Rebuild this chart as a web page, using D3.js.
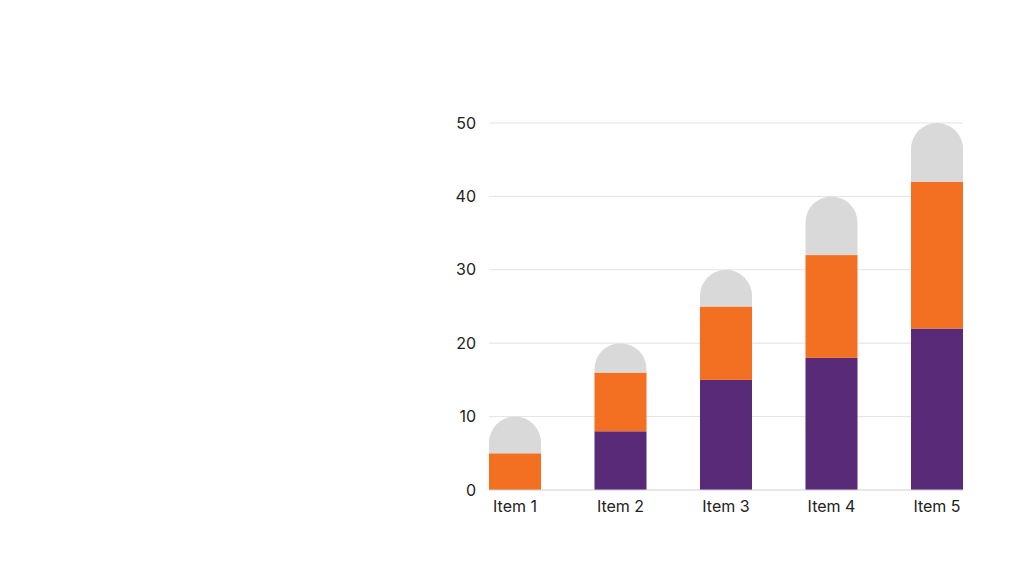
<!DOCTYPE html>
<html lang="en">
<head>
<meta charset="UTF-8">
<title>Stacked Bars</title>
<script src="https://cdn.jsdelivr.net/npm/d3@7"></script>
<style>
  body { margin: 0; background: #fff; }
  text { font-family: Inter, "Open Sans", sans-serif; }
</style>
</head>
<body>
<svg width="1024" height="576"></svg>
<script>
  const items = ['Item 1', 'Item 2', 'Item 3', 'Item 4', 'Item 5'];
  const seriesA = [0, 8, 15, 18, 22];
  const seriesB = [5, 8, 10, 14, 20];
  const seriesC = [5, 4, 5, 8, 8];
  const yTicks = [0, 10, 20, 30, 40, 50];
  const colors = ['#582a77', '#f37022', '#d9d9d9'];

  const data = items.map((d, i) => ({ item: d, a: seriesA[i], b: seriesB[i], c: seriesC[i] }));
  const stack = d3.stack().keys(['a', 'b', 'c']);
  const stacked = stack(data);

  const svg = d3.select('svg');
  const x = d3.scaleBand().domain(items).range([489, 963]).paddingInner(0.507).paddingOuter(0);
  const y = d3.scaleLinear().domain([0, 50]).range([490, 123]);

  // grid
  svg.append('g').selectAll('line')
    .data(yTicks.slice(1))
    .enter().append('line')
    .attr('x1', 489).attr('x2', 963)
    .attr('y1', d => y(d)).attr('y2', d => y(d))
    .attr('stroke', '#e3e3e3').attr('stroke-width', 1);

  const bw = x.bandwidth();
  const r = bw / 2;

  stacked.forEach((layer, li) => {
    const g = svg.append('g').attr('fill', colors[li]);
    if (li < 2) {
      g.selectAll('rect').data(layer).enter().append('rect')
        .attr('x', d => x(d.data.item))
        .attr('y', d => y(d[1]))
        .attr('width', bw)
        .attr('height', d => y(d[0]) - y(d[1]));
    } else {
      // rounded cap on top
      g.selectAll('path').data(layer).enter().append('path')
        .attr('d', d => {
          const x0 = x(d.data.item), x1 = x0 + bw;
          const yb = y(d[0]), yt = y(d[1]);
          return `M${x0},${yb}L${x0},${yt + r}A${r},${r} 0 0 1 ${x1},${yt + r}L${x1},${yb}Z`;
        });
    }
  });

  // baseline
  svg.append('line')
    .attr('x1', 489).attr('x2', 963)
    .attr('y1', y(0)).attr('y2', y(0))
    .attr('stroke', '#cfcfcf');

  // y axis labels
  svg.append('g').selectAll('text')
    .data(yTicks).enter().append('text')
    .attr('x', 476).attr('y', d => y(d))
    .attr('dy', '0.35em')
    .attr('text-anchor', 'end')
    .attr('font-size', 16).attr('fill', '#222')
    .text(d => d);

  // x labels
  svg.append('g').selectAll('text')
    .data(items).enter().append('text')
    .attr('x', d => x(d) + bw / 2).attr('y', 512)
    .attr('text-anchor', 'middle')
    .attr('font-size', 16).attr('fill', '#222')
    .text(d => d);
</script>
</body>
</html>
